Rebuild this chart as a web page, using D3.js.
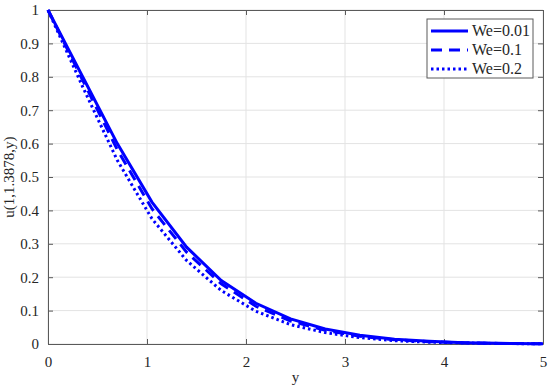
<!DOCTYPE html>
<html>
<head>
<meta charset="utf-8">
<script src="https://cdn.jsdelivr.net/npm/d3@7"></script>
<style>
  body { margin: 0; background: #fff; }
  svg text { font-family: "Liberation Serif", "Times New Roman", "DejaVu Serif", serif; fill: #262626; }
</style>
</head>
<body>
<div id="chart"></div>
<script>
// sample points along y
const yVals = [0, 0.35, 0.7, 1.05, 1.4, 1.75, 2.1, 2.45, 2.8, 3.15, 3.5, 3.85, 4.2, 4.55, 5];
const we001 = [1, 0.80, 0.60, 0.425, 0.29, 0.19, 0.122, 0.075, 0.045, 0.026, 0.014, 0.008, 0.004, 0.002, 0.001];
const we01  = [1, 0.79, 0.582, 0.405, 0.275, 0.18, 0.113, 0.069, 0.041, 0.023, 0.013, 0.007, 0.0035, 0.0018, 0.0008];
const we02  = [1, 0.77, 0.55, 0.375, 0.25, 0.16, 0.098, 0.058, 0.034, 0.019, 0.01, 0.0055, 0.003, 0.0015, 0.0006];
const seriesNames = ['We=0.01', 'We=0.1', 'We=0.2'];
const xTicks = [0, 1, 2, 3, 4, 5];
const yTicks = [0, 0.1, 0.2, 0.3, 0.4, 0.5, 0.6, 0.7, 0.8, 0.9, 1];

const serif = '"Liberation Serif", "Times New Roman", "DejaVu Serif", serif';
var margin = ({top: 10, bottom: 45, left: 48, right: 7});
const width = 550 - margin.left - margin.right;
const height = 389 - margin.top - margin.bottom;

const svg = d3.select('#chart')
  .append('svg')
  .attr('width', 550)
  .attr('height', 389)
  .attr('font-family', serif)
  .append('g')
  .attr('transform', `translate(${margin.left},${margin.top})`);

const x = d3.scaleLinear().domain([0, 5]).range([0, width]);
const y = d3.scaleLinear().domain([0, 1]).range([height, 0]);

// grid
svg.append('g').selectAll('line.gx')
  .data(xTicks).enter().append('line')
  .attr('x1', d => x(d)).attr('x2', d => x(d))
  .attr('y1', 0).attr('y2', height)
  .attr('stroke', '#e3e3e3').attr('stroke-width', 1);
svg.append('g').selectAll('line.gy')
  .data(yTicks).enter().append('line')
  .attr('y1', d => y(d)).attr('y2', d => y(d))
  .attr('x1', 0).attr('x2', width)
  .attr('stroke', '#e3e3e3').attr('stroke-width', 1);

// axes (ticks pointing inward, like matlab)
const xAxis = d3.axisBottom(x).tickValues(xTicks).tickSizeInner(-5).tickSizeOuter(0).tickPadding(12).tickFormat(d3.format('d'));
const yAxis = d3.axisLeft(y).tickValues(yTicks).tickSizeInner(-5).tickSizeOuter(0).tickPadding(9).tickFormat(d => d === 0 || d === 1 ? d : d3.format('.1f')(d));
const xTop = d3.axisTop(x).tickValues(xTicks).tickSizeInner(-5).tickSizeOuter(0).tickFormat('');
const yRight = d3.axisRight(y).tickValues(yTicks).tickSizeInner(-5).tickSizeOuter(0).tickFormat('');

function styleAxis(g) {
  g.attr('font-family', serif).attr('font-size', 15);
  g.selectAll('path').attr('stroke', '#5a5a5a').attr('stroke-width', 1);
  g.selectAll('line').attr('stroke', '#5a5a5a');
  g.selectAll('text').attr('fill', '#262626');
}

svg.append('g').attr('transform', `translate(0,${height})`).call(xAxis).call(styleAxis);
svg.append('g').call(yAxis).call(styleAxis);
svg.append('g').call(xTop).call(styleAxis);
svg.append('g').attr('transform', `translate(${width},0)`).call(yRight).call(styleAxis);

// curves
const line = d3.line().x(d => x(d[0])).y(d => y(d[1]));
const allSeries = [we001, we01, we02];
const dashes = [null, '11,7', '2.5,3'];

allSeries.forEach((s, i) => {
  svg.append('path')
    .datum(yVals.map((v, j) => [v, s[j]]))
    .attr('d', line)
    .attr('fill', 'none')
    .attr('stroke', '#0000ff')
    .attr('stroke-width', 3)
    .attr('stroke-dasharray', dashes[i]);
});

// legend
const lg = svg.append('g').attr('transform', `translate(${427 - margin.left},${19 - margin.top})`);
lg.append('rect').attr('width', 106).attr('height', 59)
  .attr('fill', '#fff').attr('stroke', '#5a5a5a').attr('stroke-width', 1);
seriesNames.forEach((n, i) => {
  const yy = 12 + i * 19;
  lg.append('line').attr('x1', 4).attr('x2', 41).attr('y1', yy).attr('y2', yy)
    .attr('stroke', '#0000ff').attr('stroke-width', 3)
    .attr('stroke-dasharray', dashes[i]);
  lg.append('text').attr('x', 45).attr('y', yy + 5).attr('font-size', 16).text(n);
});

// axis labels
svg.append('text')
  .attr('x', width / 2).attr('y', height + 38)
  .attr('text-anchor', 'middle').attr('font-size', 15).text('y');
svg.append('text')
  .attr('transform', `translate(${-34},${height / 2}) rotate(-90)`)
  .attr('text-anchor', 'middle').attr('font-size', 15).text('u(1,1.3878,y)');
</script>
</body>
</html>
